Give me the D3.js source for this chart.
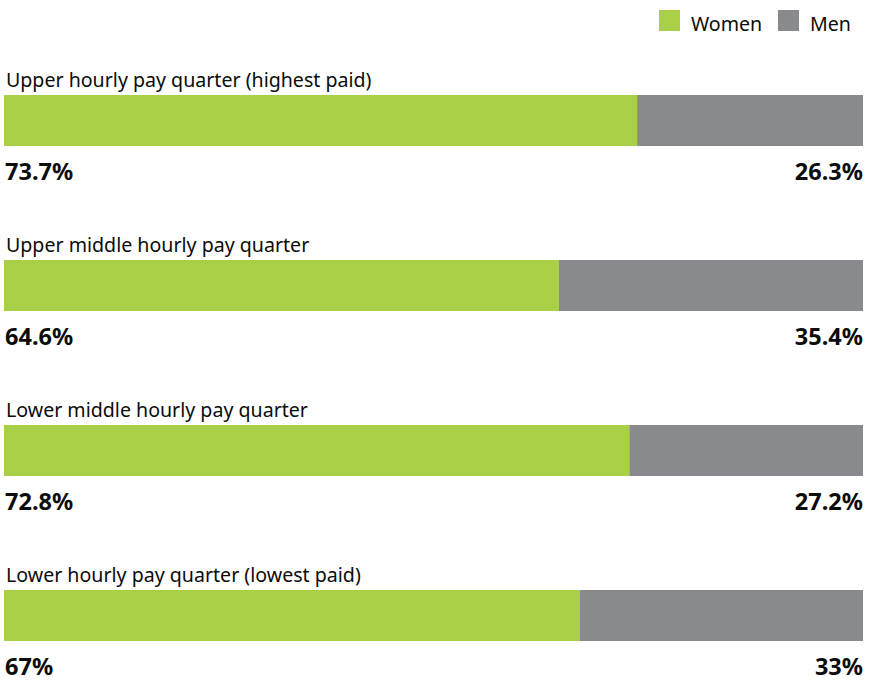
<!DOCTYPE html>
<html><head><meta charset="utf-8">
<script src="https://cdn.jsdelivr.net/npm/d3@7"></script>
<style>
html,body{margin:0;padding:0;background:#fff;}
text{font-family:"Noto Sans",sans-serif;fill:#0b0c0c;}
</style></head>
<body><svg id="c" width="871" height="682"></svg>
<script>
const categories = ["Upper hourly pay quarter (highest paid)","Upper middle hourly pay quarter","Lower middle hourly pay quarter","Lower hourly pay quarter (lowest paid)"];
const women = [73.7, 64.6, 72.8, 67];
const men = [26.3, 35.4, 27.2, 33];
const womenLabels = ["73.7%","64.6%","72.8%","67%"];
const menLabels = ["26.3%","35.4%","27.2%","33%"];
const seriesNames = ["Women","Men"];
const colors = ["#a8cf45","#898a8e"];

const svg = d3.select("#c");
const x = d3.scaleLinear().domain([0,100]).range([4,863]);
const y = d3.scaleBand().domain(categories).range([95,755]).paddingInner(0).paddingOuter(0);
const barH = 51;

const g = svg.selectAll("g.row").data(categories).join("g").attr("class","row")
  .attr("transform", d => `translate(0,${y(d)})`);

g.append("text").attr("x",6).attr("y",-8).attr("font-size",19.6).text(d=>d);
g.append("rect").attr("x",x(0)).attr("y",0).attr("height",barH)
  .attr("width",(d,i)=>x(women[i])-x(0)).attr("fill",colors[0]);
g.append("rect").attr("x",(d,i)=>x(women[i])).attr("y",0).attr("height",barH)
  .attr("width",(d,i)=>x(women[i]+men[i])-x(women[i])).attr("fill",colors[1]);
g.append("text").attr("x",5).attr("y",barH+34).attr("font-size",23.5).attr("font-weight","bold")
  .text((d,i)=>womenLabels[i]);
g.append("text").attr("x",863).attr("y",barH+34).attr("text-anchor","end").attr("font-size",23.5).attr("font-weight","bold")
  .text((d,i)=>menLabels[i]);

// legend
const legX = [659, 778];
const lg = svg.selectAll("g.leg").data(seriesNames).join("g").attr("class","leg")
  .attr("transform",(d,i)=>`translate(${legX[i]},10)`);
lg.append("rect").attr("width",21).attr("height",21).attr("fill",(d,i)=>colors[i]);
lg.append("text").attr("x",32).attr("y",21).attr("font-size",19.6).text(d=>d);
</script></body></html>
